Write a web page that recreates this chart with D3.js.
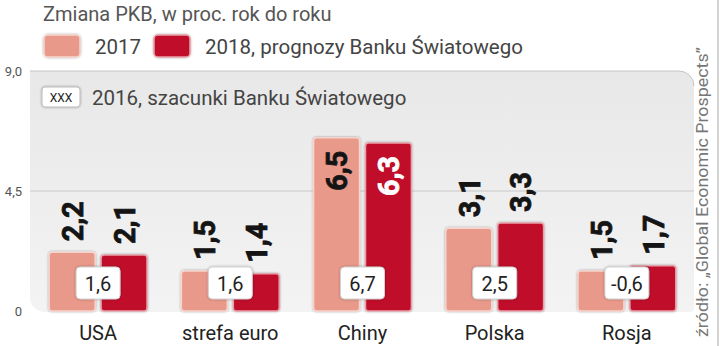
<!DOCTYPE html>
<html>
<head>
<meta charset="utf-8">
<script src="https://cdn.jsdelivr.net/npm/d3@7"></script>
<style>
  body { margin: 0; background: #fff; }
  text { font-family: Roboto, "DejaVu Sans", sans-serif; }
</style>
</head>
<body>
<script>
let width = 720;
let height = 346;

let categories = ["USA", "strefa euro", "Chiny", "Polska", "Rosja"];
let values2017 = [2.2, 1.5, 6.5, 3.1, 1.5];
let values2018 = [2.1, 1.4, 6.3, 3.3, 1.7];
let values2016 = [1.6, 1.6, 6.7, 2.5, -0.6];
let seriesKeys = ["2017", "2018"];
let yTicks = [0, 4.5, 9];
let title = "Zmiana PKB, w proc. rok do roku";
let legendLabels = ["2017", "2018, prognozy Banku Światowego"];
let label2016 = "2016, szacunki Banku Światowego";
let source = "źródło: „Global Economic Prospects”";

let colors = { "2017": "#e8998a", "2018": "#c0102c" };
let borders = { "2017": "#f6d3cb", "2018": "#e7a0a8" };
let fmt = function(v) {
  return v === 0 ? "0" : d3.format(".1f")(v).replace(".", ",").replace("\u2212", "-");
};

let svg = d3.select("body")
            .append("svg")
            .attr("width", width)
            .attr("height", height);

let defs = svg.append("defs");
let grad = defs.append("linearGradient").attr("id", "panelGrad")
               .attr("x1", 0).attr("y1", 0).attr("x2", 0).attr("y2", 1);
grad.append("stop").attr("offset", "0%").attr("stop-color", "#e8e8e8");
grad.append("stop").attr("offset", "100%").attr("stop-color", "#f3f3f3");
let shadow = defs.append("filter").attr("id", "shadow")
                 .attr("x", "-20%").attr("y", "-20%").attr("width", "140%").attr("height", "140%");
shadow.append("feDropShadow").attr("dx", 0).attr("dy", 0).attr("stdDeviation", 1)
      .attr("flood-color", "#000").attr("flood-opacity", 0.35);

// scales
let y = d3.scaleLinear().domain([0, 9]).range([311, 71]);
let x0 = d3.scaleBand().domain(categories).range([32, 693])
           .paddingInner(0.26).paddingOuter(0.13);
let x1 = d3.scaleBand().domain(seriesKeys).range([0, x0.bandwidth()])
           .paddingInner(0.115);

// panel background
let pLeft = 30, pRight = 694, pTop = y(9), pBottom = 312, r = 15;
svg.append("path")
   .attr("d", "M" + pLeft + "," + pTop + " H" + (pRight - r) +
              " A" + r + "," + r + " 0 0 1 " + pRight + "," + (pTop + r) +
              " V" + (pBottom - 4) + " A4,4 0 0 1 " + (pRight - 4) + "," + pBottom +
              " H" + (pLeft + r) +
              " A" + r + "," + r + " 0 0 1 " + pLeft + "," + (pBottom - r) + " Z")
   .attr("fill", "url(#panelGrad)");
svg.append("path")
   .attr("d", "M" + pLeft + "," + pTop + " H" + (pRight - r) +
              " A" + r + "," + r + " 0 0 1 " + pRight + "," + (pTop + r))
   .attr("fill", "none").attr("stroke", "#c4c4c4").attr("stroke-width", 1);

// gridline at 4,5
svg.append("line")
   .attr("x1", pLeft).attr("x2", pRight)
   .attr("y1", y(4.5)).attr("y2", y(4.5))
   .attr("stroke", "#c8c8c8").attr("stroke-width", 1);

// y axis labels
let yAxis = svg.append("g")
   .attr("transform", "translate(25,0)")
   .call(d3.axisLeft(y).tickValues(yTicks).tickSize(0).tickPadding(3).tickFormat(fmt));
yAxis.select(".domain").remove();
yAxis.selectAll("text")
     .attr("font-family", "Roboto, sans-serif")
     .attr("font-size", 13)
     .attr("fill", "#555");

// bars
let rows = categories.map(function(c, i) {
  return { cat: c, v2016: values2016[i], bars: [
    { key: "2017", value: values2017[i], cat: c },
    { key: "2018", value: values2018[i], cat: c }
  ] };
});

let groups = svg.append("g").selectAll(".grp")
   .data(rows).enter().append("g")
   .attr("class", "grp")
   .attr("transform", function(d) { return "translate(" + x0(d.cat) + ",0)"; });

groups.selectAll("rect.bar")
   .data(function(d) { return d.bars; })
   .enter().append("rect")
   .attr("class", "bar")
   .attr("x", function(d) { return x1(d.key); })
   .attr("y", function(d) { return y(d.value); })
   .attr("width", x1.bandwidth())
   .attr("height", function(d) { return y(0) - y(d.value); })
   .attr("rx", 3)
   .attr("fill", function(d) { return colors[d.key]; })
   .attr("stroke", function(d) { return borders[d.key]; })
   .attr("stroke-width", 1.5)
   .attr("filter", "url(#shadow)");

// rotated value labels
groups.selectAll("text.val")
   .data(function(d) { return d.bars; })
   .enter().append("text")
   .attr("class", "val")
   .attr("transform", function(d) {
     let inside = d.value > 5;
     let ty = inside ? y(d.value) + 13 : y(d.value) - 11;
     return "translate(" + (x1(d.key) + x1.bandwidth() / 2) + "," + ty + ") rotate(-90)";
   })
   .attr("dy", "0.36em")
   .attr("text-anchor", function(d) { return d.value > 5 ? "end" : "start"; })
   .attr("font-family", "'DejaVu Sans', sans-serif")
   .attr("font-weight", "bold")
   .attr("font-size", 30)
   .attr("textLength", 40)
   .attr("lengthAdjust", "spacingAndGlyphs")
   .attr("fill", function(d) { return (d.value > 5 && d.key === "2018") ? "#fff" : "#141414"; })
   .attr("stroke", function(d) { return (d.value > 5 && d.key === "2018") ? "#fff" : "#141414"; })
   .attr("stroke-width", 0.8)
   .text(function(d) { return fmt(d.value); });

// 2016 boxes
groups.append("rect")
   .attr("x", x0.bandwidth() / 2 - 22)
   .attr("y", 267)
   .attr("width", 44)
   .attr("height", 32)
   .attr("rx", 4)
   .attr("fill", "#fff")
   .attr("stroke", "#d0d0d0")
   .attr("filter", "url(#shadow)");
groups.append("text")
   .attr("x", x0.bandwidth() / 2)
   .attr("y", 291)
   .attr("text-anchor", "middle")
   .attr("font-size", 20)
   .attr("fill", "#222")
   .text(function(d) { return fmt(d.v2016); });

// category labels
groups.append("text")
   .attr("x", x0.bandwidth() / 2)
   .attr("y", 340)
   .attr("text-anchor", "middle")
   .attr("font-size", 20)
   .attr("fill", "#222")
   .text(function(d) { return d.cat; });

// title and legend
svg.append("text")
   .attr("x", 43).attr("y", 21)
   .attr("font-size", 20)
   .attr("fill", "#555")
   .text(title);

let legend = svg.append("g").selectAll(".leg")
   .data(seriesKeys).enter().append("g")
   .attr("class", "leg")
   .attr("transform", function(d, i) { return "translate(" + (44 + i * 110) + ",35)"; });
legend.append("rect")
   .attr("width", 36).attr("height", 22).attr("rx", 4)
   .attr("fill", function(d) { return colors[d]; })
   .attr("stroke", function(d) { return borders[d]; })
   .attr("stroke-width", 1.5)
   .attr("filter", "url(#shadow)");
legend.append("text")
   .attr("x", 51).attr("y", 19)
   .attr("font-size", 20.5)
   .attr("fill", "#444")
   .text(function(d, i) { return legendLabels[i]; });

let leg16 = svg.append("g").attr("transform", "translate(42,87)");
leg16.append("rect")
   .attr("width", 38).attr("height", 20).attr("rx", 3)
   .attr("fill", "#fff").attr("stroke", "#bbb")
   .attr("filter", "url(#shadow)");
leg16.append("text")
   .attr("x", 19).attr("y", 15)
   .attr("text-anchor", "middle")
   .attr("font-size", 12)
   .attr("fill", "#222")
   .text("XXX");
leg16.append("text")
   .attr("x", 50).attr("y", 18)
   .attr("font-size", 20.5)
   .attr("fill", "#444")
   .text(label2016);

// source, vertical
svg.append("text")
   .attr("transform", "translate(708,337) rotate(-90)")
   .attr("font-size", 16.5)
   .attr("textLength", 290)
   .attr("lengthAdjust", "spacingAndGlyphs")
   .attr("fill", "#777")
   .text(source);

svg.append("line")
   .attr("x1", 718).attr("x2", 718).attr("y1", 0).attr("y2", height)
   .attr("stroke", "#aaa").attr("stroke-width", 1);
</script>
</body>
</html>
